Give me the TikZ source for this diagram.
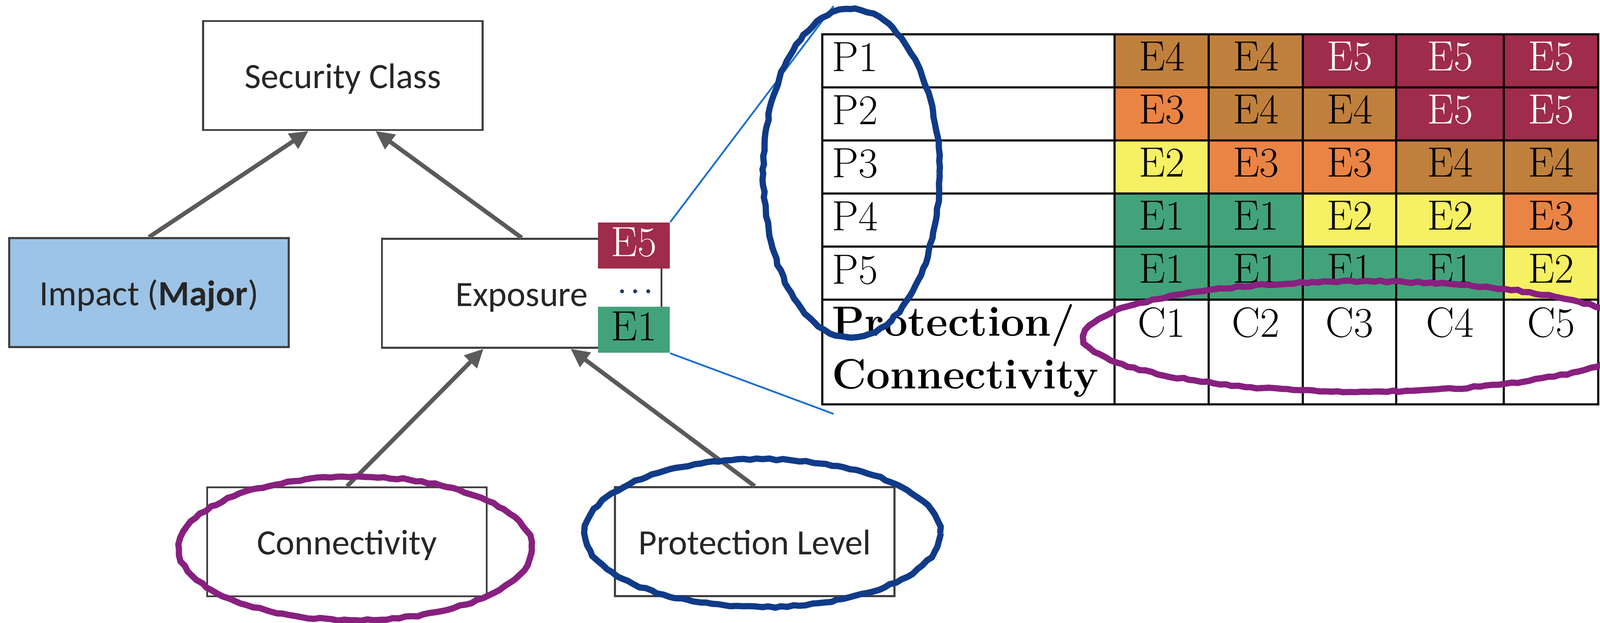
\documentclass[tikz,border=0pt]{standalone}
\usepackage{fontspec}
\newfontfamily\calibri{Carlito}
\usetikzlibrary{arrows.meta, positioning, decorations.pathmorphing}

\definecolor{cE1}{HTML}{42A37A}
\definecolor{cE2}{HTML}{F6F064}
\definecolor{cE3}{HTML}{EA8445}
\definecolor{cE4}{HTML}{C0803D}
\definecolor{cE5}{HTML}{9E2C4A}
\colorlet{tE1}{black}
\colorlet{tE2}{black}
\colorlet{tE3}{black}
\colorlet{tE4}{black}
\colorlet{tE5}{white}
\definecolor{impactblue}{HTML}{9DC3E6}
\definecolor{boxgray}{HTML}{404040}
\definecolor{arrowgray}{HTML}{5A5A5A}
\definecolor{zoomblue}{HTML}{1A6FCC}
\definecolor{inkblue}{HTML}{103B88}
\definecolor{inkpurple}{HTML}{88207F}
\definecolor{dotnavy}{HTML}{1F3864}

\tikzset{
  block/.style={draw=boxgray, line width=0.8pt, minimum width=3.95cm, minimum height=1.54cm,
    inner sep=0pt, text height=0.36cm, text depth=0pt, text=black!85,
    font=\calibri\fontsize{14.3}{17}\selectfont},
  cellfont/.style={font=\fontsize{17}{20}\selectfont, inner sep=0pt},
  badge/.style={cellfont, minimum width=1.015cm, minimum height=0.65cm, text height=0.3cm, text depth=0pt},
  feeds/.style={draw=arrowgray, line width=1.7pt, -{Triangle[length=7.5pt,width=7pt]}},
  zoomline/.style={draw=zoomblue, line width=0.7pt},
  tabline/.style={draw=black, line width=0.9pt},
  ink/.style={line width=2.5pt, decorate, decoration={random steps, segment length=2.5pt, amplitude=0.35pt}}
}

\begin{document}
\begin{tikzpicture}[>=latex]
\useasboundingbox (0,0) rectangle (22.61,8.8);
\clip (0,0) rectangle (22.61,8.8);

\node[block] (sec) at (4.845,7.7325) {Security Class};
\node[block, fill=impactblue] (imp) at (2.105,4.665) {Impact (\textbf{Major})};
\node[block] (exp) at (7.3725,4.655) {Exposure};
\node[block] (con) at (4.9025,1.1425) {Connectivity};
\node[block] (pro) at (10.665,1.145) {Protection Level};

\draw[feeds] (imp.north) -- ([xshift=-0.485cm]sec.south);
\draw[feeds] (exp.north) -- ([xshift=0.46cm]sec.south);
\draw[feeds] (con.north) -- ([xshift=-0.54cm]exp.south);
\draw[feeds] (pro.north) -- ([xshift=0.69cm]exp.south);

\coordinate (zoomtop) at (11.78,8.715);
\coordinate (zoombot) at (11.78,2.95);
\node[badge, fill=cE5, text=white] (expE5) at (8.9575,5.33) {E5};
\node[badge, fill=cE1] (expE1) at (8.955,4.14) {E1};
\node[text=dotnavy, font=\fontsize{11}{13}\selectfont\bfseries, inner sep=0pt] (dots) at (8.98,4.68) {.\,.\,.};
\draw[zoomline] (expE5.north east) -- (zoomtop);
\draw[zoomline] (expE1.south east) -- (zoombot);

% exposure matrix
\foreach \row [count=\i] in {{4,4,5,5,5},{3,4,4,5,5},{2,3,3,4,4},{1,1,2,2,3},{1,1,1,1,2}}{
  \foreach \v [count=\j] in \row {
    \pgfmathsetmacro\xl{{15.75,17.08,18.41,19.73,21.25}[\j-1]}
    \pgfmathsetmacro\xr{{17.08,18.41,19.73,21.25,22.585}[\j-1]}
    \pgfmathsetmacro\yt{8.315-0.75*(\i-1)}
    \fill[cE\v] (\xl,\yt) rectangle (\xr,\yt-0.75);
    \node[cellfont, text=tE\v, anchor=base] (cell\i\j) at ({(\xl+\xr)/2},\yt-0.515) {E\v};
  }
}
\draw[tabline] (11.62,8.315) rectangle (22.585,3.085);
\foreach \y in {7.565,6.815,6.065,5.315,4.565}
  \draw[tabline] (11.62,\y) -- (22.585,\y);
\foreach \x in {15.75,17.08,18.41,19.73,21.25}
  \draw[tabline] (\x,8.315) -- (\x,3.085);

\foreach \i in {1,...,5}
  \node[cellfont, anchor=base west] (p\i) at (11.75,{8.315-0.75*\i+0.225}) {P\i};
\node[cellfont, anchor=base west] (protlab) at (11.75,4.055) {\bfseries Protection/};
\node[cellfont, anchor=base west] (connlab) at (11.75,3.31) {\bfseries Connectivity};
\foreach \x [count=\j] in {16.415,17.745,19.07,20.49,21.9175}
  \node[cellfont, anchor=base] (c\j) at (\x,4.04) {C\j};

% hand-drawn marks
\draw[ink, inkblue] (12.03,6.35) ellipse (1.245cm and 2.32cm);
\draw[ink, inkpurple] (19.25,4.045) ellipse (3.93cm and 0.78cm);
\draw[ink, inkpurple] (5.0225,1.05) ellipse (2.49cm and 1.015cm);
\draw[ink, inkblue] (10.775,1.265) ellipse (2.51cm and 1.045cm);
\end{tikzpicture}
\end{document}
